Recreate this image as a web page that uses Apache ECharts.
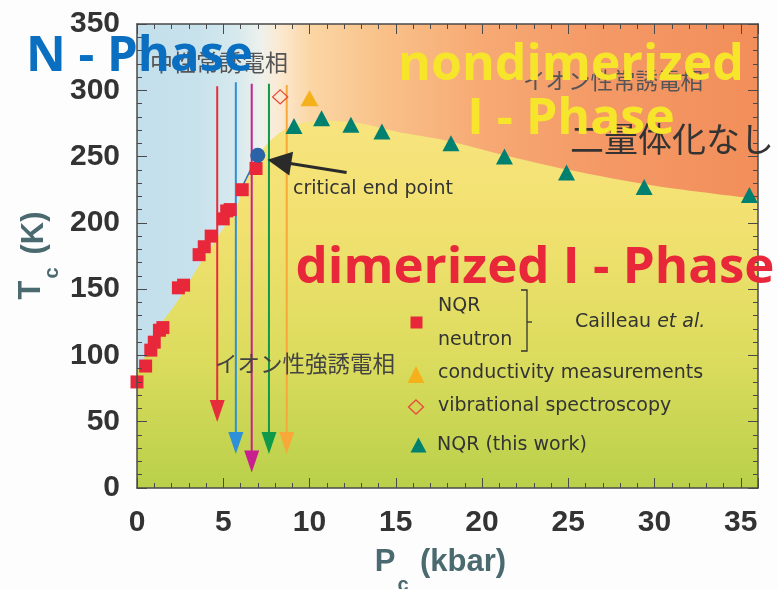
<!DOCTYPE html>
<html><head><meta charset="utf-8">
<script src="https://cdn.jsdelivr.net/npm/echarts@6/dist/echarts.min.js"></script>
<style>html,body{margin:0;padding:0;background:#fdfdfd}#c{width:778px;height:589px}</style>
</head><body><div id="c"></div><script>
// ---- data ----
const xTickValues = [0, 5, 10, 15, 20, 25, 30, 35];
const yTickValues = [0, 50, 100, 150, 200, 250, 300, 350];
const cailleauNQRNeutron = [[0,80],[0.5,92],[0.8,104],[1.0,110],[1.3,119],[1.5,121],[2.4,151],[2.7,153],[3.6,176],[3.9,182],[4.3,190],[5.0,203],[5.2,209],[5.4,210],[6.1,225],[6.9,241]];
const conductivity = [[10.0,294]];
const vibrational = [[8.3,295]];
const nqrThisWork = [[9.1,273],[10.7,279],[12.4,274],[14.2,269],[18.2,260],[21.3,250],[24.9,238],[29.4,227],[35.5,221]];
const criticalEndPoint = [[7.0,251]];
const criticalLink = [[5.9,222],[7.0,251]];
const phaseBoundary = [[0,88],[0.5,100],[1.3,122],[2.3,140],[3.5,166],[4.6,188],[5.7,210],[6.2,228],[7,250],[7.5,259],[8.5,270],[9.5,275],[11,277],[13,275],[15,269],[18,262],[21,252],[25,240],[30,228],[36,218]];
const arrowX = [4.65, 5.73, 6.65, 7.65, 8.68];
const arrowTop = [303, 306, 305, 305, 304];
const arrowHead = [58, 34, 20, 34, 34];
const pointerFrom = [12.15, 238];
const pointerTo = [8.25, 246.1];

// ---- styles ----
const arrowColors = ['#e52d3c', '#2e90d8', '#c8208f', '#11994a', '#f7a839'];
const tickFont = 'Liberation Sans, Arial, sans-serif';
const phaseFont = "'Open Sans', 'Noto Sans', sans-serif";
const legendFont = "'DejaVu Sans', sans-serif";
const cjkFont = "'Noto Sans CJK JP', sans-serif";
const axisColor = '#4a4a4a';
const nameColor = '#4a6a70';

const chart = echarts.init(document.getElementById('c'), null, {renderer: 'canvas'});

function majorX(pos, labels) {
  return {
    type: 'value', position: pos, min: 0, max: 36, interval: 5, z: 10,
    axisLine: {show: true, onZero: false, lineStyle: {color: axisColor, width: 1.5}},
    axisTick: {show: true, inside: true, length: 10, lineStyle: {color: axisColor, width: 1}},
    axisLabel: {show: labels, margin: 20, fontSize: 30, fontWeight: 'bold', fontFamily: tickFont, color: '#333',
      formatter: v => (xTickValues.indexOf(v) >= 0 ? String(v) : '')},
    splitLine: {show: false}
  };
}
function minorX(pos) {
  return {
    type: 'value', position: pos, min: 0, max: 36, interval: 1, z: 10,
    axisLine: {show: false, onZero: false},
    axisTick: {show: true, inside: true, length: 5, lineStyle: {color: axisColor, width: 1}},
    axisLabel: {show: false}, splitLine: {show: false}
  };
}
function yAx(pos, labels) {
  return {
    type: 'value', position: pos, min: 0, max: 350, interval: 50, z: 10,
    axisLine: {show: true, onZero: false, lineStyle: {color: axisColor, width: 1.5}},
    axisTick: {show: true, inside: true, length: 10, lineStyle: {color: axisColor, width: 1}},
    minorTick: {show: true, splitNumber: 5, length: 5, lineStyle: {color: axisColor, width: 1}},
    axisLabel: {show: labels, margin: 17, fontSize: 30, fontWeight: 'bold', fontFamily: tickFont, color: '#333',
      formatter: v => (yTickValues.indexOf(v) >= 0 ? String(v) : '')},
    splitLine: {show: false}, minorSplitLine: {show: false}
  };
}

const arrowSeries = arrowX.map((x, i) => ({
  type: 'line', xAxisIndex: 0, yAxisIndex: 0, silent: true, z: 4, animation: false,
  showSymbol: true,
  data: [
    {value: [x, arrowTop[i]], symbol: 'none'},
    {value: [x, arrowHead[i]], symbol: 'triangle', symbolSize: [15, 22], symbolRotate: 180}
  ],
  lineStyle: {color: arrowColors[i], width: 2},
  itemStyle: {color: arrowColors[i]}
}));

function txt(x, y, text, font, fill, align, z, extra) {
  return Object.assign({type: 'text', x: x, y: y, z: z || 10,
    style: {text: text, font: font, fill: fill, textAlign: align || 'left', textVerticalAlign: 'middle'}}, extra || {});
}

const option = {
  backgroundColor: '#fdfdfd',
  animation: false,
  grid: {left: 137, top: 24, width: 621, height: 464, show: true, borderWidth: 0,
    backgroundColor: {type: 'linear', x: 0, y: 0, x2: 1, y2: 0, colorStops: [
      {offset: 0, color: '#c2dfeb'}, {offset: 0.10, color: '#c8e2ec'}, {offset: 0.16, color: '#d6e9ee'},
      {offset: 0.20, color: '#eef1ec'}, {offset: 0.23, color: '#fce9d0'}, {offset: 0.28, color: '#fbd6a4'},
      {offset: 0.40, color: '#f9c088'}, {offset: 0.55, color: '#f7aa74'}, {offset: 0.75, color: '#f49966'},
      {offset: 1, color: '#f28e5a'}]}},
  xAxis: [majorX('bottom', true), minorX('bottom'), majorX('top', false), minorX('top')],
  yAxis: [yAx('left', true), yAx('right', false)],
  series: [
    {type: 'line', silent: true, z: 1, data: phaseBoundary, symbol: 'none', smooth: 0.3,
      lineStyle: {width: 0},
      areaStyle: {opacity: 1, color: {type: 'linear', x: 0, y: 0, x2: 0, y2: 1, colorStops: [
        {offset: 0, color: '#f7e47e'}, {offset: 0.28, color: '#f2e170'}, {offset: 0.64, color: '#dcdc5e'}, {offset: 1, color: '#b9d04a'}]}}},
    ...arrowSeries,
    {type: 'line', z: 5, data: criticalLink, symbol: 'none', lineStyle: {color: '#2f6db0', width: 1.5}},
    {type: 'scatter', z: 6, data: cailleauNQRNeutron, symbol: 'rect', symbolSize: 13, itemStyle: {color: '#e8283a', opacity: 1}},
    {type: 'scatter', z: 6, data: criticalEndPoint, symbol: 'circle', symbolSize: 15, itemStyle: {color: '#2a63a6', opacity: 1}},
    {type: 'scatter', z: 6, data: conductivity, symbol: 'triangle', symbolSize: [18, 16], itemStyle: {color: '#f4b11c', opacity: 1}},
    {type: 'scatter', z: 6, data: vibrational, symbol: 'diamond', symbolSize: [15, 14], itemStyle: {color: 'rgba(0,0,0,0)', borderColor: '#e84a3a', borderWidth: 1.3, opacity: 1}},
    {type: 'scatter', z: 6, data: nqrThisWork, symbol: 'triangle', symbolSize: [17, 16], itemStyle: {color: '#00806f', opacity: 1}},
    {type: 'lines', coordinateSystem: 'cartesian2d', z: 7, silent: true,
      data: [{coords: [pointerFrom, pointerTo]}], symbol: ['none', 'triangle'], symbolSize: 24,
      lineStyle: {color: '#2a2a2a', width: 3, opacity: 1}}
  ],
  graphic: {elements: [
    txt(150, 62, '中性常誘電相', '23px ' + cjkFont, '#555', 'left', 20),
    txt(26, 57, 'N - Phase', 'bold 49px ' + phaseFont, '#0a6fc0', 'left', 21),
    txt(523, 80, 'イオン性常誘電相', '22.5px ' + cjkFont, '#555', 'left', 20),
    txt(570, 139, '二量体化なし', '34px ' + cjkFont, '#333', 'left', 20),
    txt(571, 66, 'nondimerized', 'bold 50px ' + phaseFont, '#f7e52b', 'center', 21),
    txt(571, 120, 'I - Phase', 'bold 50px ' + phaseFont, '#f7e52b', 'center', 21),
    txt(293, 189, 'critical end point', '19px ' + legendFont, '#333', 'left', 20),
    txt(535, 268, 'dimerized I - Phase', 'bold 51px ' + phaseFont, '#e8283a', 'center', 21),
    txt(215, 363, 'イオン性強誘電相', '22.5px ' + cjkFont, '#444', 'left', 20),
    // legend
    {type: 'rect', z: 20, shape: {x: 410.5, y: 316.5, width: 12, height: 12}, style: {fill: '#e8283a'}},
    txt(438, 306, 'NQR', '19px ' + legendFont, '#333', 'left', 20),
    txt(438, 340, 'neutron', '19px ' + legendFont, '#333', 'left', 20),
    {type: 'polyline', z: 20, shape: {points: [[521, 290], [527, 290], [527, 351], [521, 351]]}, style: {stroke: '#333', lineWidth: 1.3, fill: null}},
    {type: 'line', z: 20, shape: {x1: 527, y1: 322, x2: 532, y2: 322}, style: {stroke: '#333', lineWidth: 1.3}},
    {type: 'text', x: 575, y: 322, z: 20, style: {text: '{n|Cailleau }{i|et al.}', textVerticalAlign: 'middle',
      rich: {n: {font: '19px ' + legendFont, fill: '#333'}, i: {font: 'italic 19px ' + legendFont, fill: '#333'}}}},
    {type: 'polygon', z: 20, shape: {points: [[416, 366], [424.5, 383], [407.5, 383]]}, style: {fill: '#f4b11c'}},
    txt(438, 373, 'conductivity measurements', '19px ' + legendFont, '#333', 'left', 20),
    {type: 'polygon', z: 20, shape: {points: [[416, 400], [423.5, 407], [416, 414], [408.5, 407]]}, style: {fill: null, stroke: '#e84a3a', lineWidth: 1.3}},
    txt(438, 406, 'vibrational spectroscopy', '19px ' + legendFont, '#333', 'left', 20),
    {type: 'polygon', z: 20, shape: {points: [[418.5, 437.5], [426.5, 452.5], [410.5, 452.5]]}, style: {fill: '#00806f'}},
    txt(437, 445, 'NQR (this work)', '19px ' + legendFont, '#333', 'left', 20),
    // axis names
    {type: 'group', x: 31, y: 290, rotation: Math.PI / 2, z: 20, children: [
      txt(0, 0, 'T', 'bold 31px ' + tickFont, nameColor, 'center', 20),
      txt(17, 21, 'c', 'bold 20px ' + tickFont, nameColor, 'center', 20),
      txt(57, 3, '(K)', 'bold 31px ' + tickFont, nameColor, 'center', 20)
    ]},
    txt(385, 562, 'P', 'bold 31px ' + tickFont, nameColor, 'center', 20),
    txt(403, 585, 'c', 'bold 20px ' + tickFont, nameColor, 'center', 20),
    txt(420, 562, '(kbar)', 'bold 31px ' + tickFont, nameColor, 'left', 20)
  ]}
};
chart.setOption(option);
</script></body></html>
